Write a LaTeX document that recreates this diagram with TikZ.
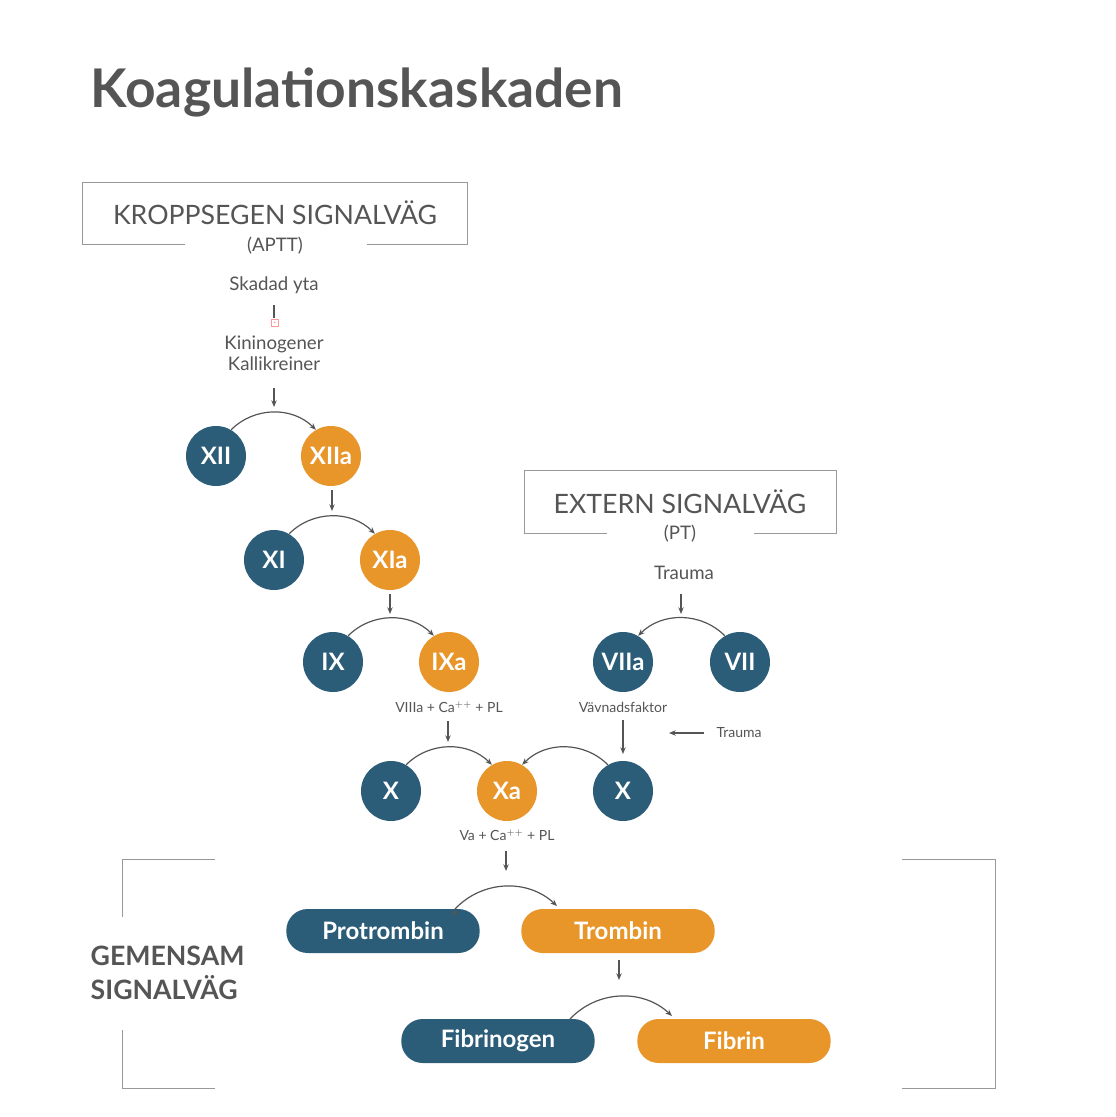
\documentclass[tikz,border=0pt]{standalone}
\usepackage{fontspec}
\setmainfont{Lato}
\usetikzlibrary{arrows.meta}
\definecolor{dblue}{HTML}{2B5C78}
\definecolor{orng}{HTML}{E8952A}
\definecolor{gtxt}{HTML}{555555}
\definecolor{lgray}{HTML}{999999}
\begin{document}
\begin{tikzpicture}[x=0.75pt,y=-0.75pt,
  fac/.style={circle,minimum size=45pt,inner sep=0pt,text=white,font=\fontsize{18}{20}\selectfont\bfseries},
  bfac/.style={fac,fill=dblue},
  ofac/.style={fac,fill=orng},
  pill/.style={rounded corners=16pt,minimum width=145pt,minimum height=33pt,inner sep=0pt,text=white,font=\fontsize{18}{20}\selectfont\bfseries},
  bpill/.style={pill,fill=dblue},
  opill/.style={pill,fill=orng},
  lbl/.style={text=gtxt,font=\fontsize{14}{16}\selectfont},
  sml/.style={text=gtxt,font=\fontsize{10.5}{12}\selectfont},
  hdr/.style={text=gtxt,font=\fontsize{20}{22}\selectfont},
  arr/.style={draw=gtxt,line width=0.9pt,-{Stealth[length=5pt,width=4pt]}},
  frame/.style={draw=lgray,line width=0.7pt}]
\useasboundingbox (0,0) rectangle (1116,1117);
\node[anchor=west,text=gtxt,font=\fontsize{40}{44}\selectfont\bfseries] (title) at (86,92) {Koagulationskaskaden};
% intrinsic box
\draw[frame] (185,244) -- (82,244) -- (82,182) -- (467,182) -- (467,244) -- (367,244);
\node[hdr] (kb) at (275,213) {KROPPSEGEN SIGNALVÄG};
\node[lbl] (aptt) at (275,246) {(APTT)};
\node[lbl] (sk) at (274,285) {Skadad yta};
\coordinate (skb) at (274,305);
\coordinate (ske) at (274,318);
\draw[gtxt,line width=0.9pt] (skb) -- (ske);
\node[draw=red!40,line width=0.4pt,minimum size=5pt,inner sep=0pt,font=\fontsize{4}{4}\selectfont,text=red!50] (box) at (275,323) {+};
\node[lbl,align=center] (kin) at (274,353) {Kininogener\\Kallikreiner};
\coordinate (a1) at (274,388);
\coordinate (a2) at (274,407);
\draw[arr] (a1) -- (a2);
% circles
\node[bfac] (XII) at (216,456) {XII};
\node[ofac] (XIIa) at (331,456) {XIIa};
\node[bfac] (XI) at (274,560) {XI};
\node[ofac] (XIa) at (390,560) {XIa};
\node[bfac] (IX) at (333,662) {IX};
\node[ofac] (IXa) at (449,662) {IXa};
\node[bfac] (VIIa) at (623,662) {VIIa};
\node[bfac] (VII) at (740,662) {VII};
\node[bfac] (X1) at (391,791) {X};
\node[ofac] (Xa) at (507,791) {Xa};
\node[bfac] (X2) at (623,791) {X};
\draw[arr] (XII.60) to[bend left=45] (XIIa.120);
\draw[arr] (XI.60) to[bend left=45] (XIa.120);
\draw[arr] (IX.60) to[bend left=45] (IXa.120);
\draw[arr] (VII.120) to[bend right=45] (VIIa.60);
\draw[arr] (X1.60) to[bend left=45] (Xa.120);
\draw[arr] (X2.120) to[bend right=45] (Xa.60);
\coordinate (b1) at (332,490); \coordinate (b2) at (332,511);
\draw[arr] (b1) -- (b2);
\coordinate (c1) at (390,594); \coordinate (c2) at (390,614);
\draw[arr] (c1) -- (c2);
% extrinsic box
\draw[frame] (607,533) -- (524,533) -- (524,470) -- (836,470) -- (836,533) -- (754,533);
\node[hdr] (eb) at (680,502) {EXTERN SIGNALVÄG};
\node[lbl] (pt) at (680,534) {(PT)};
\node[lbl] (tr1) at (684,573) {Trauma};
\coordinate (d1) at (681,594); \coordinate (d2) at (681,614);
\draw[arr] (d1) -- (d2);
\node[sml] (viii) at (449,707) {VIIIa + Ca$^{++}$ + PL};
\node[sml] (vav) at (623,707) {Vävnadsfaktor};
\node[sml,anchor=west] (tr2) at (712,733) {Trauma};
\coordinate (t1) at (704,733); \coordinate (t2) at (669,733);
\draw[arr] (t1) -- (t2);
\coordinate (e1) at (448,721); \coordinate (e2) at (448,742);
\draw[arr] (e1) -- (e2);
\coordinate (f1) at (623,720); \coordinate (f2) at (623,754);
\draw[arr] (f1) -- (f2);
\node[sml] (va) at (507,835) {Va + Ca$^{++}$ + PL};
\coordinate (g1) at (506,851); \coordinate (g2) at (506,871);
\draw[arr] (g1) -- (g2);
% common
\node[bpill] (pro) at (383,931) {Protrombin};
\node[opill] (tro) at (618,931) {Trombin};
\node[bpill] (fbg) at (498,1041) {Fibrinogen};
\node[opill] (fib) at (734,1041) {Fibrin};
\draw[arr] (pro.north east) ++(-25,0) coordinate (p1);
\draw[arr] (455,909) to[bend left=45] (557,906);
\coordinate (h1) at (619,960); \coordinate (h2) at (619,980);
\draw[arr] (h1) -- (h2);
\draw[arr] (570,1019) to[bend left=45] (672,1016);
\draw[frame] (215,859) -- (122,859) -- (122,917);
\draw[frame] (122,1030) -- (122,1088) -- (215,1088);
\draw[frame] (902,859) -- (995,859) -- (995,1088) -- (902,1088);
\node[hdr,anchor=west,align=left,font=\fontsize{20}{25}\selectfont\bfseries] (gem) at (86,973) {GEMENSAM\\SIGNALVÄG};
\end{tikzpicture}
\end{document}
